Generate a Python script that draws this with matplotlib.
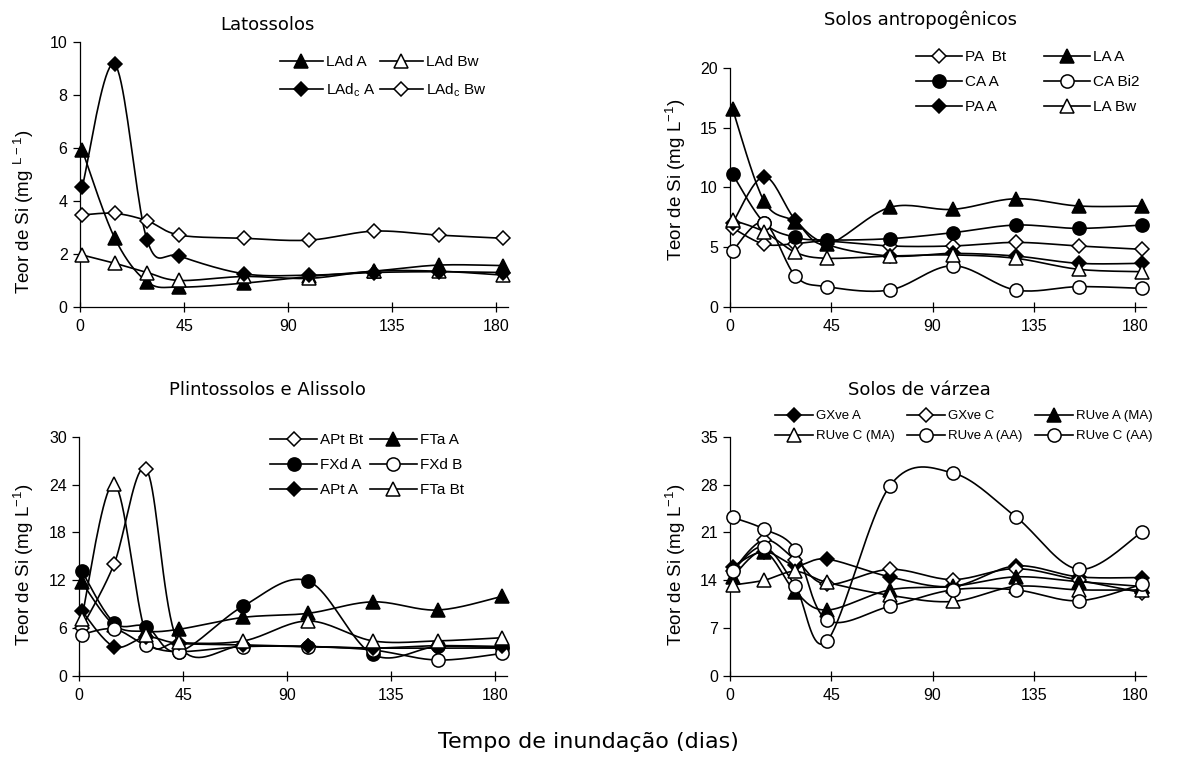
import matplotlib
matplotlib.use("Agg")
import matplotlib.pyplot as plt
from matplotlib.lines import Line2D
import numpy as np

plt.rcParams['font.family'] = ['Liberation Sans', 'DejaVu Sans']
plt.rcParams['mathtext.fontset'] = 'custom'
plt.rcParams['mathtext.rm'] = 'Liberation Sans'

W, H = 1179, 757

# sampling days
dias = [1, 15, 29, 43, 71, 99, 127, 155, 183]
xticks = [0, 45, 90, 135, 180]

# Latossolos
lad_a = [5.9, 2.6, 0.95, 0.75, 0.9, 1.15, 1.35, 1.58, 1.56]
lad_bw = [1.96, 1.65, 1.3, 1.0, 1.15, 1.08, 1.35, 1.35, 1.2]
ladc_a = [4.53, 9.15, 2.52, 1.92, 1.25, 1.2, 1.3, 1.33, 1.3]
ladc_bw = [3.47, 3.53, 3.25, 2.71, 2.59, 2.52, 2.86, 2.71, 2.59]

# Solos antropogenicos
pa_bt = [6.6, 5.25, 5.3, 5.5, 5.1, 5.1, 5.4, 5.1, 4.82]
la_a = [16.55, 8.86, 7.13, 5.24, 8.33, 8.16, 9.05, 8.44, 8.44]
ca_a = [11.1, 7.05, 5.82, 5.6, 5.71, 6.21, 6.85, 6.57, 6.85]
ca_bi2 = [4.68, 7.05, 2.59, 1.7, 1.42, 3.45, 1.42, 1.7, 1.56]
pa_a = [7.0, 10.9, 7.27, 5.24, 4.26, 4.48, 4.26, 3.65, 3.65]
la_bw = [7.27, 6.3, 4.57, 4.07, 4.26, 4.35, 4.07, 3.15, 2.95]

# Plintossolos e Alissolo
apt_bt = [6.0, 14.0, 25.9, 4.0, 3.8, 3.7, 3.5, 3.5, 3.5]
fta_a = [11.8, 6.4, 5.6, 5.85, 7.35, 7.86, 9.3, 8.27, 10.0]
fxd_a = [13.2, 6.7, 6.2, 3.05, 8.78, 11.9, 2.7, 3.7, 3.5]
fxd_b = [5.2, 5.9, 3.85, 3.05, 3.68, 3.68, 3.26, 2.0, 2.84]
apt_a = [8.2, 3.68, 4.9, 4.1, 3.9, 3.7, 3.5, 3.8, 3.7]
fta_bt = [7.2, 24.1, 5.1, 4.2, 4.4, 6.9, 4.4, 4.4, 4.8]

# Solos de varzea
gxve_a = [16.0, 18.2, 16.2, 17.1, 14.5, 13.1, 16.1, 14.5, 14.4]
gxve_c = [15.4, 19.9, 17.0, 13.4, 15.6, 14.1, 15.7, 14.0, 12.2]
ruve_a_ma = [14.5, 18.2, 12.3, 9.65, 12.6, 13.1, 14.5, 13.8, 13.1]
ruve_c_ma = [13.3, 14.0, 15.3, 13.7, 11.8, 10.9, 13.1, 12.6, 12.6]
ruve_a_aa = [15.4, 18.9, 13.1, 5.1, 27.8, 29.7, 23.3, 15.6, 21.0]
ruve_c_aa = [23.2, 21.5, 18.5, 8.2, 10.2, 12.6, 12.6, 11.0, 13.4]

# marker styles: (marker, filled, size)
TRI_F = ('^', True, 10)
TRI_O = ('^', False, 10)
DIA_F = ('D', True, 7)
DIA_O = ('D', False, 7)
CIR_F = ('o', True, 9.5)
CIR_O = ('o', False, 9.5)


def smooth(x, y, n=20):
    # excel-like smoothed line (bezier through the points)
    P = np.column_stack([x, y]).astype(float)
    Q = np.vstack([P[0], P, P[-1]])
    t = np.linspace(0, 1, n + 1)[1:, None]
    out = [P[:1]]
    for i in range(len(P) - 1):
        p0, p3 = Q[i + 1], Q[i + 2]
        c1 = p0 + (Q[i + 2] - Q[i]) / 6
        c2 = p3 - (Q[i + 3] - Q[i + 1]) / 6
        seg = ((1 - t) ** 3) * p0 + 3 * ((1 - t) ** 2) * t * c1 + 3 * (1 - t) * t ** 2 * c2 + t ** 3 * p3
        out.append(seg)
    out = np.vstack(out)
    return out[:, 0], out[:, 1]


def serie(ax, y, style):
    m, filled, ms = style
    sx, sy = smooth(dias, y)
    ax.plot(sx, sy, color='k', lw=1.2, zorder=2)
    ax.plot(dias, y, ls='none', marker=m, ms=ms, mfc='k' if filled else 'white',
            mec='k', mew=1.1, zorder=3, clip_on=False)


def handle(style):
    m, filled, ms = style
    return Line2D([], [], color='k', lw=1.2, marker=m, ms=ms,
                  mfc='k' if filled else 'white', mec='k', mew=1.1)


def make_ax(fig, l, r, t, b, ymax, ystep):
    ax = fig.add_axes([l / W, 1 - b / H, (r - l) / W, (b - t) / H])
    ax.set_xlim(0, 185)
    ax.set_ylim(0, ymax)
    ax.set_xticks(xticks)
    ax.set_yticks(np.arange(0, ymax + 0.1, ystep))
    for s in ['top', 'right']:
        ax.spines[s].set_visible(False)
    for s in ['left', 'bottom']:
        ax.spines[s].set_linewidth(0.9)
    ax.tick_params(axis='y', direction='out', length=5, width=0.9, labelsize=11.5, pad=4)
    ax.tick_params(axis='x', direction='inout', length=7, width=0.9, labelsize=11.5, pad=5)
    return ax


def ylab(fig, ax, text, x, y):
    ax.set_ylabel(text, fontsize=13.5, va='center')
    ax.yaxis.set_label_coords(x / W, 1 - y / H, transform=fig.transFigure)


def leg(fig, ax, hs, labels, x, y, ncol, fs, hl, cs, ls):
    ax.legend(hs, labels, ncol=ncol, loc='upper left', frameon=False,
              bbox_to_anchor=(x / W, 1 - y / H), bbox_transform=fig.transFigure,
              borderpad=0, borderaxespad=0, fontsize=fs, handlelength=hl,
              handletextpad=0.2, columnspacing=cs, labelspacing=ls)


fig = plt.figure(figsize=(W / 100, H / 100), dpi=100)

# Latossolos
ax1 = make_ax(fig, 80, 508, 41.7, 307, 10, 2)
serie(ax1, lad_a, TRI_F)
serie(ax1, lad_bw, TRI_O)
serie(ax1, ladc_a, DIA_F)
serie(ax1, ladc_bw, DIA_O)
fig.text(267 / W, 1 - 25 / H, 'Latossolos', family='DejaVu Sans', fontsize=13, ha='center', va='center')
ylab(fig, ax1, r'Teor de Si (mg $^{\mathregular{L-1}}$)', 24, 212)
leg(fig, ax1, [handle(TRI_F), handle(DIA_F), handle(TRI_O), handle(DIA_O)],
    ['LAd A', r'LAd$_{\mathregular{c}}$ A', 'LAd Bw', r'LAd$_{\mathregular{c}}$ Bw'],
    280, 55, 2, 11, 2.8, 0.3, 0.8)

# Solos antropogenicos
ax2 = make_ax(fig, 730.3, 1146, 67.7, 307, 20, 5)
serie(ax2, pa_bt, DIA_O)
serie(ax2, la_a, TRI_F)
serie(ax2, ca_a, CIR_F)
serie(ax2, ca_bi2, CIR_O)
serie(ax2, pa_a, DIA_F)
serie(ax2, la_bw, TRI_O)
fig.text(920 / W, 1 - 20 / H, 'Solos antropogênicos', family='DejaVu Sans', fontsize=13, ha='center', va='center')
ylab(fig, ax2, r'Teor de Si (mg L$^{\mathregular{-1}}$)', 676, 180)
leg(fig, ax2, [handle(DIA_O), handle(CIR_F), handle(DIA_F), handle(TRI_F), handle(CIR_O), handle(TRI_O)],
    ['PA  Bt', 'CA A', 'PA A', 'LA A', 'CA Bi2', 'LA Bw'],
    916, 50, 2, 11, 3.0, 2.5, 0.72)

# Plintossolos e Alissolo
ax3 = make_ax(fig, 79.3, 507, 436.7, 676, 30, 6)
serie(ax3, apt_bt, DIA_O)
serie(ax3, fta_a, TRI_F)
serie(ax3, fxd_a, CIR_F)
serie(ax3, fxd_b, CIR_O)
serie(ax3, apt_a, DIA_F)
serie(ax3, fta_bt, TRI_O)
fig.text(267 / W, 1 - 390 / H, 'Plintossolos e Alissolo', family='DejaVu Sans', fontsize=13, ha='center', va='center')
ylab(fig, ax3, r'Teor de Si (mg L$^{\mathregular{-1}}$)', 24, 565)
leg(fig, ax3, [handle(DIA_O), handle(CIR_F), handle(DIA_F), handle(TRI_F), handle(CIR_O), handle(TRI_O)],
    ['APt Bt', 'FXd A', 'APt A', 'FTa A', 'FXd B', 'FTa Bt'],
    270, 433, 2, 11, 3.1, 0.4, 0.72)

# Solos de varzea
ax4 = make_ax(fig, 730.3, 1146, 436.7, 676, 35, 7)
serie(ax4, gxve_a, DIA_F)
serie(ax4, gxve_c, DIA_O)
serie(ax4, ruve_a_ma, TRI_F)
serie(ax4, ruve_c_ma, TRI_O)
serie(ax4, ruve_a_aa, CIR_O)
serie(ax4, ruve_c_aa, CIR_O)
fig.text(919 / W, 1 - 390 / H, 'Solos de várzea', family='DejaVu Sans', fontsize=13, ha='center', va='center')
ylab(fig, ax4, r'Teor de Si (mg L$^{\mathregular{-1}}$)', 676, 565)
leg(fig, ax4, [handle(DIA_F), handle(TRI_O), handle(DIA_O), handle(CIR_O), handle(TRI_F), handle(CIR_O)],
    ['GXve A', 'RUve C (MA)', 'GXve C', 'RUve A (AA)', 'RUve A (MA)', 'RUve C (AA)'],
    775, 410, 3, 9.5, 2.9, 0.95, 0.6)

fig.text(588 / W, 1 - 742 / H, 'Tempo de inundação (dias)', family='DejaVu Sans', fontsize=16,
         ha='center', va='center')

fig.savefig('out.png', dpi=100)
